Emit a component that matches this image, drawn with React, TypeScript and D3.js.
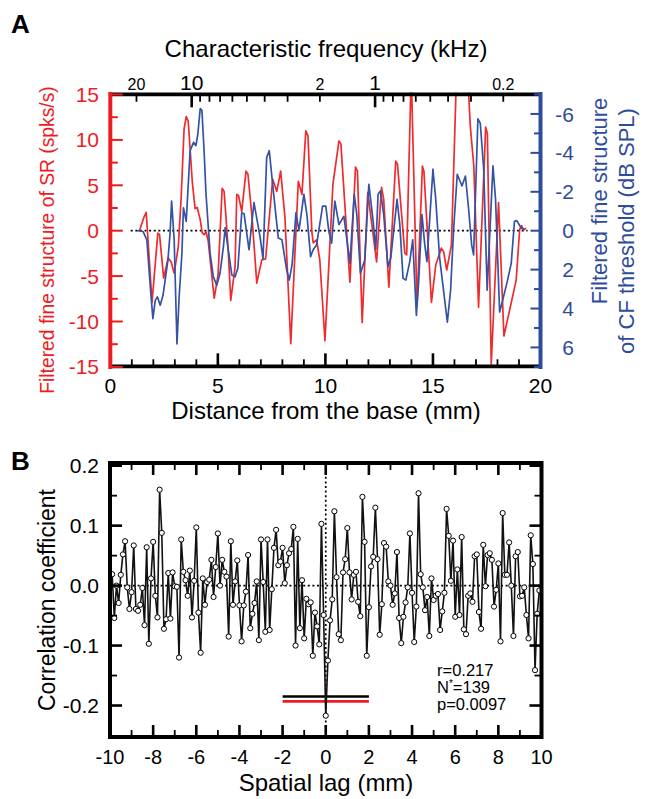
import React from "react";
import * as d3 from "d3";

const FONT = "'Liberation Sans', Arial, Helvetica, sans-serif";
const RED = "#ed1c24";
const BLUE = "#2e4c9c";
const RED_LINE = "#ee2b2f";
const BLUE_LINE = "#3453a6";

// ---------------- Panel A data ----------------
const redDist = [1.36,1.55,1.67,1.94,2.21,2.29,2.48,2.69,2.83,2.97,3.16,3.29,3.43,3.53,3.62,3.71,3.81,3.94,4.04,4.18,4.27,4.36,4.45,4.55,4.83,5.01,5.20,5.29,5.38,5.48,5.60,5.80,5.88,5.96,6.11,6.31,6.40,6.59,6.81,7.04,7.22,7.55,7.74,7.92,8.12,8.39,8.74,8.91,9.09,9.19,9.37,9.43,9.59,9.74,9.98,10.35,10.63,10.72,11.14,11.40,11.49,11.71,11.97,12.38,12.61,12.71,12.95,13.27,13.35,13.69,13.78,13.99,14.26,14.51,14.58,14.93,15.13,15.39,15.50,15.64,15.86,16.09,16.24,16.52,16.66,16.74,16.90,17.12,17.45,17.53,17.71,18.05,18.30,18.87,19.03,19.12,19.21,19.34];
const redSR = [0.03,1.41,2.03,-7.89,-0.26,-0.44,-5.22,-3.0,-3.44,-4.67,-1.78,3.44,11.2,12.56,12.1,9.0,5.44,2.44,2.56,1.22,-0.22,-0.44,-0.11,-1.11,-7.44,-4.89,4.67,4.33,1.44,-2.11,-7.67,-4.0,4.0,3.89,2.11,6.56,6.22,1.44,-5.78,-3.22,-3.11,5.67,4.33,6.56,1.44,-12.44,5.44,4.0,11.0,10.44,-0.11,-1.33,-1.0,-3.22,-12.11,5.11,9.89,9.56,-5.67,7.0,6.56,-10.14,4.22,-3.44,4.78,3.44,-6.22,7.67,7.33,-2.44,-2.67,17.5,-8.22,7.11,6.56,-7.89,-3.78,-1.92,-2.33,-4.33,-1.56,16.8,19,19,15.1,11.4,7.1,-8.44,11.4,10.7,-14.7,3.1,-11.6,-5.44,0.11,0.56,0.11,0.26];

const blueDist = [1.25,1.52,1.70,1.86,1.98,2.09,2.19,2.32,2.45,2.55,2.68,2.78,2.85,2.97,3.10,3.20,3.33,3.40,3.53,3.71,3.87,3.98,4.07,4.18,4.26,4.36,4.45,4.64,4.79,4.95,5.10,5.26,5.34,5.65,5.80,5.93,6.11,6.22,6.45,6.68,6.82,6.96,7.10,7.27,7.39,7.58,7.81,7.98,8.20,8.32,8.45,8.63,8.77,9.00,9.14,9.31,9.43,9.59,9.87,10.02,10.16,10.29,10.44,10.63,10.86,11.14,11.34,11.46,11.63,11.83,12.02,12.22,12.34,12.45,12.56,12.71,12.91,13.04,13.33,13.46,13.61,13.74,13.92,14.06,14.23,14.34,14.49,14.62,14.72,15.00,15.13,15.31,15.67,15.82,15.96,16.13,16.35,16.51,16.66,16.80,16.89,17.09,17.20,17.36,17.52,17.79,17.91,18.10,18.24,18.47,18.64,18.79,18.90,19.10,19.26];
const blueThr = [0,0.04,0.47,2.89,4.52,3.58,3.40,3.83,3.32,2.54,1.50,0.12,-1.52,0.47,5.82,3.40,1.16,-1.18,-0.48,-4.11,-4.54,-4.37,-4.97,-6.27,-6.18,-4.11,-1.87,1.16,2.37,2.80,2.19,0.81,-0.16,2.28,2.37,1.93,-0.92,-0.87,0.98,-1.44,-0.57,0.30,1.45,-3.77,-4.11,-2.04,0.38,0.47,2.02,2.54,1.76,-0.92,0,-1.87,-0.83,1.33,0.98,0.73,-1.26,-1.26,0.05,0.64,-1.52,-0.31,-0.74,1.67,-1.87,-0.83,2.19,1.5,-2.38,-0.48,0.98,-1.87,-2.04,-0.83,1.85,1.4,-1.61,-0.31,2.45,2.54,1.6,0.47,4.35,2.54,-0.83,0.73,1.59,-3.16,-1.61,1.4,4.70,3.06,-0.05,-2.90,-2.30,-2.81,-1.09,0.73,1.24,-5.75,-5.53,-3.16,3.06,-3.33,-1.61,4.18,3.58,2.54,1.67,-0.48,-0.52,-0.14,-0.05];

const zeroLineDist = [0.95, 19.4];
const freqTicks = [20, 10, 9, 8, 7, 6, 5, 4, 3, 2, 1, 0.9, 0.8, 0.7, 0.6, 0.5, 0.4, 0.3, 0.2];
const freqMajor = [10, 1];
const freqLabelVals = [20, 10, 2, 1, 0.2];
const freqLabelText = ["20", "10", "2", "1", "0.2"];
const distTicks = d3.range(0, 21, 1);
const distLabels = [0, 5, 10, 15, 20];
const srTicks = d3.range(-15, 15.01, 2.5);
const srLabels = [15, 10, 5, 0, -5, -10, -15];
const thrTicks = d3.range(-7, 7.01, 1);
const thrLabels = [-6, -4, -2, 0, 2, 4, 6];

// ---------------- Panel B data ----------------
const lagStart = -9.9;
const lagStep = 0.1;
const corr = [
  0.019,-0.054,0.0,-0.029,0.018,0.052,0.074,-0.003,-0.039,-0.011,
  0.067,-0.039,-0.042,-0.032,-0.004,-0.066,0.064,-0.097,0.012,0.073,
  -0.017,-0.053,0.160,0.088,-0.072,-0.056,0.021,-0.055,0.022,-0.001,
  -0.002,-0.120,0.077,0.023,0.009,-0.017,0.025,-0.053,0.008,0.097,
  -0.045,-0.112,0.012,-0.032,0.006,0.010,0.043,-0.019,0.031,0.087,
  0.0,0.043,0.023,0.015,-0.085,0.074,-0.032,0.007,0.042,-0.033,
  -0.093,-0.033,-0.010,0.051,
  -0.071,-0.047,-0.029,0.007,-0.091,0.077,
  0.006,-0.077,0.077,-0.074,-0.006,0.063,0.093,0.034,0.040,0.063,
  0.004,0.034,0.054,0.061,0.098,-0.100,0.078,-0.071,0.009,-0.088,
  -0.022,-0.031,-0.028,-0.117,-0.045,-0.068,-0.098,0.103,-0.049,-0.217,
  -0.125,-0.058,-0.023,0.124,0.014,-0.081,-0.091,0.022,0.044,0.096,
  0.022,-0.023,0.018,0.023,-0.027,-0.051,0.148,0.073,-0.117,-0.036,
  0.032,0.048,0.130,0.044,-0.082,-0.031,0.071,0.065,0.007,0.000,
  -0.032,-0.013,0.056,-0.054,
  -0.096,-0.052,-0.028,-0.003,0.087,-0.012,
  -0.094,-0.035,0.154,0.019,-0.003,-0.041,-0.019,-0.084,0.012,-0.024,
  -0.017,-0.014,-0.074,-0.043,-0.012,0.128,0.083,0.008,0.075,-0.052,
  0.027,-0.049,0.081,-0.073,-0.081,-0.017,-0.013,-0.027,0.049,0.052,
  -0.044,-0.072,0.068,-0.001,0.051,0.054,0.043,-0.035,-0.007,0.037,
  -0.093,0.121,0.018,0.018,0.072,0.000,-0.084,0.049,0.056,-0.018,
  -0.017,-0.003,-0.049,-0.088,0.084,0.036,-0.141,-0.047,-0.008
];
const lagTicks = d3.range(-10, 10.01, 1);
const lagLabels = [-10, -8, -6, -4, -2, 0, 2, 4, 6, 8, 10];
const corrTicks = [-0.2, -0.15, -0.1, -0.05, 0, 0.05, 0.1, 0.15, 0.2];
const corrLabelVals = [0.2, 0.1, 0, -0.1, -0.2];
const corrLabelText = ["0.2", "0.1", "0.0", "-0.1", "-0.2"];
const sigLagRange = [-2, 2];
const sigBlack = -0.185;
const sigRed = -0.193;
const statR = "r=0.217";
const statN = "139";
const statP = "p=0.0097";

export default function App() {
  // Panel A scales
  const xA = d3.scaleLinear().domain([0, 20]).range([110.3, 540.5]);
  const ySR = d3.scaleLinear().domain([-15, 15]).range([366.9, 94.5]);
  const yThr = d3.scaleLinear().domain([7, -7]).range([366.9, 94.5]);
  const xF = d3.scaleLog().domain([10, 1]).range([xA(3.784), xA(12.31)]);
  const topA = 94.3;
  const botA = 366.3;

  const redPath = d3.line<number>().x((_, i) => xA(redDist[i])).y((d) => ySR(d))(redSR) || "";
  const bluePath = d3.line<number>().x((_, i) => xA(blueDist[i])).y((d) => yThr(d))(blueThr) || "";

  // Panel B scales
  const xB = d3.scaleLinear().domain([-10, 10]).range([110, 541.5]);
  const yB = d3.scaleLinear().domain([-0.2525, 0.2045]).range([737, 463]);
  const corrPts = corr.map((c, i) => [lagStart + i * lagStep, c] as [number, number]);
  const corrPath = d3.line<[number, number]>().x((d) => xB(d[0])).y((d) => yB(d[1]))(corrPts) || "";

  const tickFont = 21;

  return (
    <svg
      width={652}
      height={799}
      viewBox="0 0 652 799"
      style={{ position: "absolute", left: 0, top: 0, background: "#fff" }}
      fontFamily={FONT}
    >
      <rect x={0} y={0} width={652} height={799} fill="#fff" />
      <defs>
        <clipPath id="clipA">
          <rect x={xA(0)} y={92.5} width={xA(20) - xA(0)} height={276} />
        </clipPath>
      </defs>

      {/* ================= Panel A ================= */}
      <text x={11} y={33} fontSize={26} fontWeight="bold">A</text>
      <text x={326} y={57} fontSize={24} textAnchor="middle">Characteristic frequency (kHz)</text>

      {/* zero dotted line */}
      <line x1={xA(zeroLineDist[0])} x2={xA(zeroLineDist[1])} y1={ySR(0)} y2={ySR(0)}
        stroke="#000" strokeWidth={1.7} strokeDasharray="2,2.6" />

      <g clipPath="url(#clipA)">
        <path d={redPath} fill="none" stroke={RED_LINE} strokeWidth={1.7} strokeLinejoin="round" />
        <path d={bluePath} fill="none" stroke={BLUE_LINE} strokeWidth={1.7} strokeLinejoin="round" />
      </g>

      {/* top axis (frequency) */}
      <line x1={xA(0)} x2={xA(20)} y1={topA} y2={topA} stroke="#000" strokeWidth={3.8} />
      {freqTicks.map((f) => {
        const major = freqMajor.includes(f);
        return (
          <line key={"ft" + f} x1={xF(f)} x2={xF(f)} y1={topA} y2={topA + (major ? 13 : 7.5)}
            stroke="#000" strokeWidth={major ? 2.6 : 1.8} />
        );
      })}
      {freqLabelVals.map((f, i) => {
        const major = freqMajor.includes(f);
        return (
          <text key={"fl" + f} x={xF(f)} y={90} fontSize={major ? 21 : 16} textAnchor="middle">
            {freqLabelText[i]}
          </text>
        );
      })}

      {/* bottom axis (distance) */}
      <line x1={xA(0)} x2={xA(20)} y1={botA} y2={botA} stroke="#000" strokeWidth={3.8} />
      {distTicks.map((d) => {
        const major = d % 5 === 0;
        return (
          <line key={"dt" + d} x1={xA(d)} x2={xA(d)} y1={botA} y2={botA - (major ? 13 : 7)}
            stroke="#000" strokeWidth={major ? 2.6 : 1.8} />
        );
      })}
      {distLabels.map((d) => (
        <text key={"dl" + d} x={xA(d)} y={393} fontSize={tickFont} textAnchor="middle">{d}</text>
      ))}
      <text x={326} y={419} fontSize={24} textAnchor="middle">Distance from the base (mm)</text>

      {/* left axis (SR, red) */}
      <line x1={xA(0)} x2={xA(0)} y1={92} y2={369} stroke={RED} strokeWidth={4} />
      {srTicks.map((v) => {
        const major = Math.abs(v % 5) < 1e-6;
        return (
          <line key={"st" + v} x1={xA(0)} x2={xA(0) + (major ? 12.5 : 7.5)} y1={ySR(v)} y2={ySR(v)}
            stroke={RED} strokeWidth={2} />
        );
      })}
      {srLabels.map((v) => (
        <text key={"sl" + v} x={99} y={ySR(v)} dy="0.36em" fontSize={tickFont} textAnchor="end" fill={RED}>
          {v}
        </text>
      ))}
      <text transform={`translate(54,${240}) rotate(-90)`} fontSize={19.3} textAnchor="middle" fill={RED}>
        Filtered fine structure of SR (spks/s)
      </text>

      {/* right axis (threshold, blue) */}
      <line x1={xA(20)} x2={xA(20)} y1={92} y2={369} stroke={BLUE} strokeWidth={4} />
      {thrTicks.map((v) => {
        const major = v % 2 === 0;
        return (
          <line key={"tt" + v} x1={xA(20)} x2={xA(20) - (major ? 10 : 6.5)} y1={yThr(v)} y2={yThr(v)}
            stroke={BLUE} strokeWidth={2} />
        );
      })}
      {thrLabels.map((v) => (
        <text key={"tl" + v} x={574} y={yThr(v)} dy="0.36em" fontSize={tickFont} textAnchor="end" fill={BLUE}>
          {v}
        </text>
      ))}
      <text transform={`translate(607,${201}) rotate(-90)`} fontSize={22} textAnchor="middle" fill={BLUE}>
        Filtered fine structure
      </text>
      <text transform={`translate(634,${231}) rotate(-90)`} fontSize={22} textAnchor="middle" fill={BLUE}>
        of CF threshold (dB SPL)
      </text>

      {/* ================= Panel B ================= */}
      <text x={11} y={470} fontSize={26} fontWeight="bold">B</text>

      {/* dotted zero lines */}
      <line x1={xB(-10)} x2={xB(10)} y1={yB(0)} y2={yB(0)} stroke="#000" strokeWidth={1.7} strokeDasharray="2,2.6" />
      <line x1={xB(0)} x2={xB(0)} y1={yB(0.2045)} y2={yB(-0.2525)} stroke="#000" strokeWidth={1.7} strokeDasharray="2,2.6" />

      {/* significance bars */}
      <line x1={xB(sigLagRange[0])} x2={xB(sigLagRange[1])} y1={yB(sigBlack)} y2={yB(sigBlack)} stroke="#000" strokeWidth={2.6} />
      <line x1={xB(sigLagRange[0])} x2={xB(sigLagRange[1])} y1={yB(sigRed)} y2={yB(sigRed)} stroke={RED} strokeWidth={2.6} />

      {/* correlation line & points */}
      <path d={corrPath} fill="none" stroke="#111" strokeWidth={1.6} strokeLinejoin="round" />
      {corrPts.map((p, i) => (
        <circle key={"c" + i} cx={xB(p[0])} cy={yB(p[1])} r={2.6} fill="#fff" stroke="#000" strokeWidth={1} />
      ))}

      {/* frame */}
      <rect x={xB(-10)} y={yB(0.2045)} width={xB(10) - xB(-10)} height={yB(-0.2525) - yB(0.2045)}
        fill="none" stroke="#000" strokeWidth={4} />
      {lagTicks.map((l) => {
        const major = Math.abs(l % 2) < 1e-6;
        const len = major ? 12 : 7;
        return (
          <g key={"lt" + l}>
            <line x1={xB(l)} x2={xB(l)} y1={yB(0.2045)} y2={yB(0.2045) + len} stroke="#000" strokeWidth={major ? 2.6 : 1.8} />
            <line x1={xB(l)} x2={xB(l)} y1={yB(-0.2525)} y2={yB(-0.2525) - len} stroke="#000" strokeWidth={major ? 2.6 : 1.8} />
          </g>
        );
      })}
      {corrTicks.map((c) => {
        const major = Math.abs(Math.round(c * 100) % 10) === 0;
        const len = major ? 12 : 7;
        return (
          <g key={"ct" + c}>
            <line x1={xB(-10)} x2={xB(-10) + len} y1={yB(c)} y2={yB(c)} stroke="#000" strokeWidth={major ? 2.6 : 1.8} />
            <line x1={xB(10)} x2={xB(10) - len} y1={yB(c)} y2={yB(c)} stroke="#000" strokeWidth={major ? 2.6 : 1.8} />
          </g>
        );
      })}
      {lagLabels.map((l) => (
        <text key={"ll" + l} x={xB(l)} y={764} fontSize={tickFont - 1} textAnchor="middle">{l}</text>
      ))}
      {corrLabelVals.map((c, i) => (
        <text key={"cl" + c} x={99} y={yB(c)} dy="0.36em" fontSize={tickFont} textAnchor="end">
          {corrLabelText[i]}
        </text>
      ))}
      <text x={326} y={791} fontSize={24} textAnchor="middle">Spatial lag (mm)</text>
      <text transform={`translate(55,${600}) rotate(-90)`} fontSize={23} textAnchor="middle">
        Correlation coefficient
      </text>

      {/* stats */}
      <text x={437} y={676} fontSize={16.5}>{statR}</text>
      <text x={437} y={693} fontSize={16.5}>
        N<tspan dy={-6} fontSize={10}>*</tspan><tspan dy={6}>={statN}</tspan>
      </text>
      <text x={437} y={710} fontSize={16.5}>{statP}</text>
    </svg>
  );
}
